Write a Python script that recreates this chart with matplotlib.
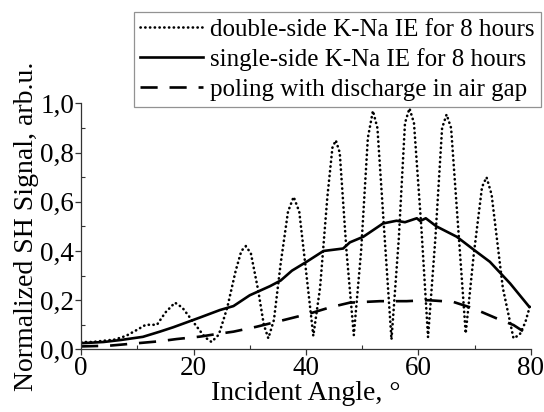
import matplotlib
matplotlib.use("Agg")
import matplotlib.pyplot as plt
from matplotlib.ticker import MultipleLocator, FuncFormatter

plt.rcParams['font.family'] = ['Liberation Serif', 'DejaVu Serif']

# double-side K-Na IE (dotted)
angle_double = [0, 2, 4, 6, 8, 10, 11.5, 13.5, 15, 16.7, 18, 20, 22, 23.2, 24.5, 26, 27.5, 28.5,
                29.3, 30.2, 31.5, 32.5, 33.3, 34.3, 35.5, 36.8, 37.8, 38.8, 40, 41.3, 42.5, 43.8,
                44.7, 45.3, 46, 47.2, 48.5, 49.8, 51, 51.9, 52.7, 54, 55.2, 56.5, 57.6, 58.4, 59.2,
                60.5, 61.7, 63, 64.2, 65.0, 65.8, 67.2, 68.4, 69.8, 71.3, 72.1, 73, 75, 76.9, 78,
                79, 80]
sig_double = [0.03, 0.03, 0.035, 0.04, 0.055, 0.08, 0.1, 0.1, 0.15, 0.19, 0.17, 0.11, 0.05, 0.03,
              0.06, 0.17, 0.32, 0.40, 0.42, 0.39, 0.24, 0.1, 0.045, 0.12, 0.35, 0.56, 0.62, 0.56,
              0.32, 0.055, 0.25, 0.62, 0.82, 0.85, 0.8, 0.4, 0.058, 0.4, 0.86, 0.97, 0.9, 0.45,
              0.04, 0.45, 0.92, 0.98, 0.92, 0.5, 0.05, 0.45, 0.9, 0.955, 0.9, 0.45, 0.065, 0.38,
              0.66, 0.70, 0.63, 0.25, 0.045, 0.06, 0.11, 0.19]

# single-side K-Na IE (solid)
angle_single = [0, 4, 7, 11, 14, 16.4, 20, 21.2, 24.7, 27.1, 30, 33.6, 35.5, 37.5, 40.1, 43.1,
                46.6, 47.8, 50.2, 53.7, 56.1, 57.6, 59.7, 60.3, 61.3, 63.2, 66.8, 70.3, 72.7,
                76.3, 79.7]
sig_single = [0.025, 0.03, 0.038, 0.051, 0.072, 0.09, 0.12, 0.13, 0.16, 0.176, 0.22, 0.257, 0.28,
              0.32, 0.356, 0.40, 0.41, 0.435, 0.458, 0.512, 0.523, 0.517, 0.533, 0.522, 0.533,
              0.50, 0.458, 0.397, 0.356, 0.268, 0.173]

# poling with discharge (dashed)
angle_poling = [0, 5, 10, 14, 17, 21.2, 24, 27.1, 31.2, 36, 40.7, 44.3, 47.8, 53.2, 57.9, 61.7,
                66.2, 69.7, 73.9, 76.9, 79.2, 80]
sig_poling = [0.012, 0.015, 0.025, 0.033, 0.042, 0.052, 0.062, 0.072, 0.092, 0.119, 0.146, 0.171,
              0.19, 0.196, 0.196, 0.20, 0.193, 0.167, 0.126, 0.099, 0.065, 0.055]

labels = ["double-side K-Na IE for 8 hours",
          "single-side K-Na IE for 8 hours",
          "poling with discharge in air gap"]

fig = plt.figure(figsize=(5.44, 4.12), dpi=100)
ax = fig.add_axes([0.149, 0.152, 0.827, 0.597])

ax.plot(angle_double, sig_double, color='black', lw=1.9, linestyle=(0, (0.1, 1.7)),
        dash_capstyle='round', label=labels[0])
ax.plot(angle_single, sig_single, color='black', lw=1.9, label=labels[1])
ax.plot(angle_poling, sig_poling, color='black', lw=1.9, linestyle=(0, (6.5, 4.5)), label=labels[2])

ax.set_xlim(0, 80)
ax.set_ylim(0, 1.0)
ax.xaxis.set_major_locator(MultipleLocator(20))
ax.xaxis.set_minor_locator(MultipleLocator(10))
ax.yaxis.set_major_locator(MultipleLocator(0.2))
ax.yaxis.set_minor_locator(MultipleLocator(0.1))
ax.yaxis.set_major_formatter(FuncFormatter(lambda v, p: f"{v:.1f}".replace('.', ',')))

for s in ['top', 'right']:
    ax.spines[s].set_visible(False)
for s in ['left', 'bottom']:
    ax.spines[s].set_color('#333333')
    ax.spines[s].set_linewidth(0.9)

ax.tick_params(which='major', direction='out', length=4, width=0.9, labelsize=19.5, pad=1, color='#333333')
ax.tick_params(which='minor', direction='in', length=3, width=0.8, color='#333333')

ax.set_xlabel("Incident Angle, °", fontsize=20, labelpad=0)
ax.set_ylabel("Normalized SH Signal, arb.u.", fontsize=20, labelpad=1)

leg = fig.legend(loc='upper right', bbox_to_anchor=(0.9945, 0.971), fontsize=18,
                 handlelength=2.5, handletextpad=0.3, labelspacing=0.3,
                 borderpad=0.25, borderaxespad=0, frameon=True, fancybox=False)
leg.get_frame().set_edgecolor('#777777')
leg.get_frame().set_linewidth(0.9)

fig.savefig("out.png", dpi=100)
